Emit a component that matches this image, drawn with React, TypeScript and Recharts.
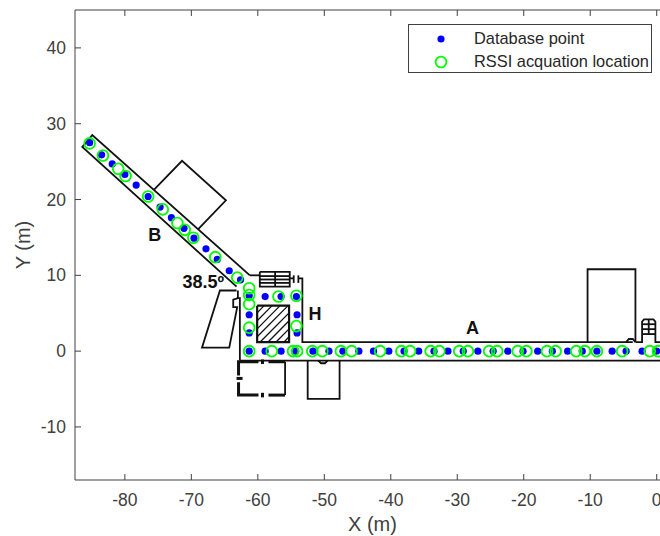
import React from 'react';
import { ScatterChart, Scatter, XAxis, YAxis, ReferenceDot, Legend } from 'recharts';

type P = [number, number];

const xTicks = [-80, -70, -60, -50, -40, -30, -20, -10, 0];
const yTicks = [-10, 0, 10, 20, 30, 40];

const databasePoints: P[] = [
  [-85.3, 27.5], [-83.5, 25.9], [-81.9, 24.7], [-80, 23.3], [-78.3, 21.9], [-76.5, 20.4], [-74.7, 19], [-73, 17.6],
  [-71.1, 16.2], [-69.6, 14.9], [-67.8, 13.5], [-66.1, 12.1], [-64.3, 10.6], [-62.6, 9.4],
  [-61.3, 7.3], [-58.9, 7.2], [-56.5, 7.2], [-54.2, 7.2], [-61.3, 4.8], [-54.1, 4.8], [-61.3, 2.4], [-54.1, 2.4],
  [-61.3, 0], [-58.9, 0], [-56.5, 0], [-54.3, 0], [-51.7, 0], [-49.3, 0], [-47.2, 0], [-44.8, 0], [-42.6, 0],
  [-40.3, 0], [-38, 0], [-35.8, 0], [-33.5, 0], [-31.4, 0], [-29.1, 0], [-26.9, 0], [-24.6, 0], [-22.4, 0],
  [-20.1, 0], [-17.9, 0], [-15.7, 0], [-13.4, 0], [-11.2, 0], [-9, 0], [-6.7, 0], [-4.6, 0], [-2.2, 0], [0, 0],
];

const rssiLocations: P[] = [
  [-85.3, 27.4], [-83.3, 25.8], [-81, 24.05], [-79.9, 23.1], [-76.5, 20.4], [-74.3, 18.7], [-72.1, 16.9], [-71, 16],
  [-69.7, 14.95], [-66.4, 12.4], [-63.1, 9.7],
  [-61.3, 8.3], [-61.3, 7.4], [-61.3, 6.2], [-61.3, 3.1], [-61.3, 0], [-57.9, 0], [-56.9, 7.2], [-54.2, 7.3],
  [-54.2, 3.3], [-54.7, 0], [-54.1, 0], [-51.8, 0], [-50.3, 0], [-47.5, 0], [-45.9, 0], [-41.6, 0], [-38.4, 0],
  [-37.1, 0], [-34, 0], [-32.7, 0], [-29.7, 0], [-28.4, 0], [-25.2, 0], [-24, 0], [-20.9, 0], [-19.6, 0],
  [-16.5, 0], [-15.2, 0], [-12.1, 0], [-10.8, 0], [-9, 0], [-5.2, 0], [-1.05, 0], [0.2, 0],
];

const corridorBOutline: P[] = [[-61.2, 10], [-84.9, 28.5], [-86.4, 26.95], [-63.2, 8.5]];
const annexOnB: P[] = [[-75.6, 21.3], [-71.4, 25.1], [-64.8, 19.9], [-69, 16.05]];
const hallTop: P[] = [[-61.2, 10], [-59.7, 10]];
const hallLeft: P[] = [[-63, 8], [-63, 7], [-62.7, 7], [-62.7, -1.25]];
const hallRight: P[] = [[-55.2, 9.6], [-54.6, 9.6]];
const hallRightWall: P[] = [[-53.9, 9.6], [-53.3, 9.6], [-53.3, 1.2], [-3.6, 1.2]];
const doorA: P[] = [[-54.6, 10], [-54.6, 9]];
const doorB: P[] = [[-53.9, 10], [-53.9, 9]];
const corridorABottom: P[] = [[-62.7, -1.25], [2, -1.25]];
const leftBuilding: P[] = [[-63.2, 8], [-65.7, 8], [-68.4, 0.45], [-64.3, 0.45], [-63.1, 5.8], [-63.7, 5.8], [-63.7, 6.8], [-63, 7]];
const roomBelow: P[] = [[-52.5, -1.25], [-52.5, -6.3], [-47.7, -6.3], [-47.7, -1.25]];
const roomBump: P[] = [[-50.9, -1.25], [-50.5, -1.6], [-49.9, -1.6], [-49.5, -1.25]];
const rightBuilding: P[] = [[-10.4, 1.2], [-10.4, 10.8], [-3.2, 10.8], [-3.2, 1.2]];
const rightBump: P[] = [[-4.6, 1.2], [-4.2, 1.6], [-3.6, 1.6], [-3.2, 1.2]];
const rightStairs: P[] = [[-3.2, 1.2], [-2.2, 1.2], [-2.2, 3.9], [-1.9, 4.2], [-0.5, 4.2], [-0.2, 3.9], [-0.2, 1.2], [2, 1.2]];

const stairRects: P[][] = [
  [[-59.7, 10.46], [-55.2, 10.46], [-55.2, 8.5], [-59.7, 8.5], [-59.7, 10.46]],
  [[-59.7, 9.9], [-55.2, 9.9]],
  [[-59.7, 9.45], [-55.2, 9.45]],
  [[-59.7, 9], [-55.2, 9]],
  [[-57.4, 10.46], [-57.4, 8.5]],
  [[-2.2, 3.55], [-0.2, 3.55]],
  [[-2.2, 2.9], [-0.2, 2.9]],
  [[-2.2, 2.25], [-0.2, 2.25]],
  [[-1.2, 4.2], [-1.2, 2.25]],
];

const hatchBox: P[] = [[-60.1, 6], [-55.3, 6], [-55.3, 1.2], [-60.1, 1.2], [-60.1, 6]];
const hatchLines: P[][] = [
  [[-60.1, 5.05], [-59.05, 6]],
  [[-60.1, 4], [-57.85, 6]],
  [[-60.1, 2.94], [-56.65, 6]],
  [[-60.1, 1.89], [-55.45, 6]],
  [[-59.65, 1.2], [-55.3, 5.05]],
  [[-58.45, 1.2], [-55.3, 4]],
  [[-57.25, 1.2], [-55.3, 2.94]],
  [[-56.05, 1.2], [-55.3, 1.89]],
];

const dashedRoomThick: P[][] = [
  [[-59.9, -1.4], [-62.9, -1.4], [-62.9, -3.2]],
  [[-62.9, -4.1], [-62.9, -5.8], [-59.9, -5.8]],
  [[-58.4, -5.8], [-55.9, -5.8]],
  [[-58.4, -1.4], [-55.9, -1.4]],
  [[-63.2, -3.6], [-62.3, -3.6]],
  [[-59.3, -1.1], [-59.3, -1.7]],
  [[-59.3, -5.5], [-59.3, -6.1]],
];
const dashedRoomThin: P[] = [[-55.9, -1.4], [-55.9, -5.8]];

const plainWalls: P[][] = [
  corridorBOutline, annexOnB, hallTop, hallLeft, hallRight, hallRightWall, doorA, doorB, corridorABottom,
  leftBuilding, roomBelow, roomBump, rightBuilding, rightBump, rightStairs, ...stairRects, dashedRoomThin,
];

const toRows = (pts: P[]) => pts.map(([x, y]) => ({ x, y }));
const noPoint = () => <g />;
const FONT = '"Liberation Sans", Arial, sans-serif';
const AXIS = '#404040';
const TICK_LEN = 6;
const TICK_FONT = 17.5;

const Wall = (pts: P[], key: string, width: number) => (
  <Scatter
    key={key}
    data={toRows(pts)}
    dataKey="y"
    line={{ stroke: '#111', strokeWidth: width }}
    shape={noPoint}
    legendType="none"
    isAnimationActive={false}
  />
);

const blueDot = (p: any) => <circle cx={p.cx} cy={p.cy} r={3.6} fill="#0000ff" />;
const greenRing = (p: any) => <circle cx={p.cx} cy={p.cy} r={5.4} fill="none" stroke="#00ff00" strokeWidth={1.8} />;

const BottomTick = (p: any) => (
  <g>
    <line x1={p.x} x2={p.x} y1={p.y} y2={p.y - TICK_LEN} stroke={AXIS} />
    <text x={p.x} y={p.y + 25.5} textAnchor="middle" fontFamily={FONT} fontSize={TICK_FONT} fill={AXIS}>{p.payload.value}</text>
  </g>
);
const TopTick = (p: any) => <line x1={p.x} x2={p.x} y1={p.y} y2={p.y + TICK_LEN} stroke={AXIS} />;
const LeftTick = (p: any) => (
  <g>
    <line x1={p.x} x2={p.x + TICK_LEN} y1={p.y} y2={p.y} stroke={AXIS} />
    <text x={p.x - 9} y={p.y + 6} textAnchor="end" fontFamily={FONT} fontSize={TICK_FONT} fill={AXIS}>{p.payload.value}</text>
  </g>
);

const legendRows = [
  { name: 'Database point', glyph: <circle cx={10} cy={10} r={3.6} fill="#0000ff" /> },
  { name: 'RSSI acquation location', glyph: <circle cx={10} cy={10} r={5.4} fill="none" stroke="#00ff00" strokeWidth={1.8} /> },
];

const LegendBox = () => (
  <div style={{ boxSizing: 'border-box', width: 244, height: 49, border: '1px solid #404040', background: '#fff', fontFamily: FONT, fontSize: 16.4, color: '#262626', paddingTop: 2 }}>
    {legendRows.map((r) => (
      <div key={r.name} style={{ display: 'flex', alignItems: 'center', height: 23, whiteSpace: 'nowrap' }}>
        <svg width={20} height={20} style={{ marginLeft: 22, marginRight: 23 }}>{r.glyph}</svg>
        <span>{r.name}</span>
      </div>
    ))}
  </div>
);

const note = (value: string, x: number, y: number, size: number) => (
  <ReferenceDot
    key={value}
    x={x}
    y={y}
    r={0}
    fill="none"
    stroke="none"
    ifOverflow="visible"
    label={{ value, position: 'center', fontFamily: FONT, fontWeight: 700, fontSize: size, fill: '#111' }}
  />
);

export default function App() {
  return (
    <div style={{ position: 'fixed', left: 0, top: 0, width: 660, height: 536, overflow: 'hidden', background: '#fff' }}>
      <ScatterChart width={700} height={536} margin={{ top: 9, right: 30, bottom: 0, left: 15 }}>
        <XAxis
          type="number"
          dataKey="x"
          domain={[-87.5, 2]}
          ticks={xTicks}
          height={56}
          stroke={AXIS}
          tick={BottomTick}
          tickLine={false}
          tickSize={0}
          tickMargin={0}
          allowDataOverflow
          label={{ value: 'X (m)', position: 'insideBottom', offset: 5, fontFamily: FONT, fontSize: 20, fill: AXIS }}
        />
        <XAxis
          xAxisId="top"
          orientation="top"
          type="number"
          dataKey="x"
          domain={[-87.5, 2]}
          ticks={xTicks}
          height={1}
          stroke={AXIS}
          tick={TopTick}
          tickLine={false}
          tickSize={0}
          tickMargin={0}
          allowDataOverflow
        />
        <YAxis
          type="number"
          dataKey="y"
          domain={[-17, 45]}
          ticks={yTicks}
          width={60}
          stroke={AXIS}
          tick={LeftTick}
          tickLine={false}
          tickSize={0}
          tickMargin={0}
          allowDataOverflow
          label={{ value: 'Y (m)', angle: -90, position: 'insideLeft', offset: 8, fontFamily: FONT, fontSize: 20, fill: AXIS, style: { textAnchor: 'middle' } }}
        />
        <Legend
          layout="horizontal"
          verticalAlign="middle"
          align="center"
          content={<LegendBox />}
          wrapperStyle={{ left: 408, top: 24, bottom: 'auto', width: 244, height: 49 }}
        />
        <Scatter xAxisId="top" data={toRows(corridorABottom)} dataKey="y" shape={noPoint} legendType="none" isAnimationActive={false} />
        {plainWalls.map((w, i) => Wall(w, `wall${i}`, 1.8))}
        {Wall(hatchBox, 'hatchBox', 2.2)}
        {hatchLines.map((w, i) => Wall(w, `hatch${i}`, 1.3))}
        {dashedRoomThick.map((w, i) => Wall(w, `dash${i}`, 3))}
        <Scatter name="Database point" data={toRows(databasePoints)} dataKey="y" fill="#0000ff" shape={blueDot} isAnimationActive={false} />
        <Scatter name="RSSI acquation location" data={toRows(rssiLocations)} dataKey="y" fill="#00ff00" shape={greenRing} isAnimationActive={false} />
        {note('A', -27.7, 3.1, 18)}
        {note('B', -75.5, 15.4, 18)}
        {note('H', -51.4, 4.9, 18)}
        {note('38.5º', -68.2, 9.2, 18)}
      </ScatterChart>
    </div>
  );
}
